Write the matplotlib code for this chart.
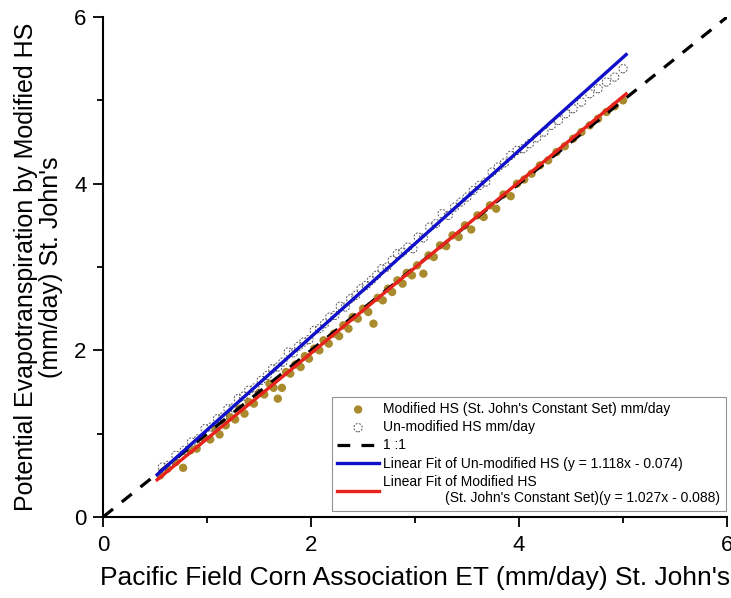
import numpy as np
import matplotlib.pyplot as plt
from matplotlib.ticker import MultipleLocator

plt.rcParams["font.family"] = ["Liberation Sans", "DejaVu Sans"]

# Modified HS (St. John's constant set)
mod_x = [0.55, 0.62, 0.70, 0.77, 0.84, 0.90, 0.97, 1.03, 1.08, 1.12, 1.18, 1.22, 1.27, 1.31,
         1.36, 1.40, 1.45, 1.50, 1.55, 1.60, 1.64, 1.68, 1.72, 1.76, 1.80, 1.85, 1.90, 1.94,
         1.98, 2.03, 2.08, 2.12, 2.17, 2.22, 2.27, 2.31, 2.36, 2.40, 2.45, 2.50, 2.55, 2.60,
         2.64, 2.69, 2.74, 2.78, 2.83, 2.88, 2.92, 2.97, 3.02, 3.08, 3.13, 3.18, 3.24, 3.30,
         3.36, 3.42, 3.48, 3.54, 3.60, 3.66, 3.72, 3.78, 3.85, 3.92, 3.98, 4.05, 4.12, 4.20,
         4.28, 4.36, 4.44, 4.52, 4.60, 4.68, 4.76, 4.84, 4.92, 5.00]
mod_y = [0.50, 0.58, 0.66, 0.59, 0.80, 0.82, 0.95, 0.93, 1.05, 0.99, 1.10, 1.20, 1.17, 1.30,
         1.24, 1.38, 1.36, 1.49, 1.47, 1.60, 1.55, 1.42, 1.55, 1.74, 1.72, 1.83, 1.80, 1.93,
         1.90, 2.02, 2.00, 2.12, 2.08, 2.20, 2.17, 2.30, 2.26, 2.40, 2.38, 2.50, 2.46, 2.32,
         2.63, 2.60, 2.74, 2.70, 2.84, 2.80, 2.93, 2.90, 3.02, 2.92, 3.14, 3.12, 3.26, 3.25,
         3.38, 3.36, 3.50, 3.45, 3.62, 3.60, 3.74, 3.70, 3.87, 3.85, 4.00, 4.05, 4.12, 4.22,
         4.28, 4.38, 4.45, 4.54, 4.62, 4.70, 4.78, 4.86, 4.93, 5.00]

# Un-modified HS
unmod_x = [0.57, 0.63, 0.70, 0.78, 0.85, 0.92, 0.98, 1.04, 1.10, 1.15, 1.20, 1.25, 1.30, 1.35,
           1.40, 1.46, 1.52, 1.58, 1.63, 1.68, 1.73, 1.78, 1.83, 1.88, 1.93, 1.98, 2.03, 2.08,
           2.13, 2.18, 2.23, 2.28, 2.33, 2.38, 2.43, 2.48, 2.53, 2.58, 2.63, 2.68, 2.73, 2.78,
           2.83, 2.88, 2.93, 2.98, 3.03, 3.08, 3.14, 3.20, 3.26, 3.32, 3.38, 3.44, 3.50, 3.56,
           3.62, 3.68, 3.74, 3.80, 3.86, 3.92, 3.98, 4.04, 4.10, 4.17, 4.24, 4.31, 4.38, 4.45,
           4.52, 4.60, 4.68, 4.76, 4.84, 4.92, 5.00]
unmod_y = [0.60, 0.62, 0.74, 0.80, 0.90, 0.94, 1.06, 1.08, 1.18, 1.20, 1.30, 1.31, 1.42, 1.45,
           1.52, 1.55, 1.64, 1.70, 1.78, 1.80, 1.86, 1.98, 1.97, 2.05, 2.10, 2.13, 2.24, 2.26,
           2.32, 2.40, 2.42, 2.53, 2.52, 2.62, 2.66, 2.74, 2.78, 2.84, 2.90, 2.98, 3.00, 3.08,
           3.16, 3.18, 3.24, 3.22, 3.36, 3.35, 3.48, 3.52, 3.64, 3.62, 3.72, 3.78, 3.84, 3.92,
           3.98, 4.02, 4.14, 4.20, 4.25, 4.34, 4.40, 4.42, 4.48, 4.55, 4.62, 4.70, 4.76, 4.84,
           4.90, 4.98, 5.08, 5.14, 5.22, 5.28, 5.38]

# linear fits reported on the chart
fit_unmod = (1.118, -0.074)
fit_mod = (1.027, -0.088)
fit_range = [0.52, 5.03]

fig = plt.figure(figsize=(7.31, 5.98), dpi=100)
ax = fig.add_axes([0.141, 0.1355, 0.8536, 0.836])

ax.scatter(mod_x, mod_y, s=36, color="#a98a2c", edgecolors="none", zorder=3,
           label="Modified HS (St. John's Constant Set) mm/day")
ax.scatter(unmod_x, unmod_y, s=36, facecolors="none", edgecolors="#555555",
           linewidths=0.7, linestyles=(0, (2, 1.5)), zorder=3,
           label="Un-modified HS mm/day")
ax.plot([0, 6], [0, 6], color="black", lw=2.3, dashes=(4, 3.5), zorder=4, label="1 :1")

xf = np.array(fit_range)
ax.plot(xf, fit_unmod[0] * xf + fit_unmod[1], color="#1010c8", lw=2.4, zorder=5,
        label="Linear Fit of Un-modified HS (y = 1.118x - 0.074)")
ax.plot(xf, fit_mod[0] * xf + fit_mod[1], color="#e8231c", lw=2.4, zorder=5,
        label="Linear Fit of Modified HS\n"
              "                (St. John's Constant Set)(y = 1.027x - 0.088)")

ax.set_xlim(0, 6)
ax.set_ylim(0, 6)
ax.xaxis.set_major_locator(MultipleLocator(2))
ax.xaxis.set_minor_locator(MultipleLocator(1))
ax.yaxis.set_major_locator(MultipleLocator(2))
ax.yaxis.set_minor_locator(MultipleLocator(1))
ax.tick_params(which="major", direction="out", length=7, width=1.3, labelsize=16, pad=6)
ax.tick_params(which="minor", direction="out", length=4, width=1.3)
ax.tick_params(axis="y", pad=5)
for side in ["top", "right"]:
    ax.spines[side].set_visible(False)
for side in ["left", "bottom"]:
    ax.spines[side].set_linewidth(1.5)

ax.set_xlabel("Pacific Field Corn Association ET (mm/day) St. John's", fontsize=19, labelpad=7)
ax.set_ylabel("Potential Evapotranspiration by Modified HS\n(mm/day) St. John's",
              fontsize=18, labelpad=8, linespacing=1.05)

leg = ax.legend(loc="lower right", bbox_to_anchor=(1.0, 0.01), fontsize=10,
                frameon=True, fancybox=False, edgecolor="#777777", handlelength=3.0,
                handletextpad=0.3, labelspacing=0.3, borderpad=0.4, borderaxespad=0.1)
leg.get_frame().set_linewidth(0.8)

fig.savefig("out.png", dpi=100)
